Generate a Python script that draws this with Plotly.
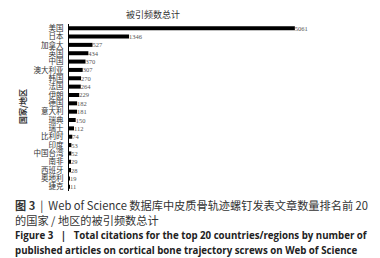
import plotly.graph_objects as go

countries = ["美国", "日本", "加拿大", "英国", "中国", "澳大利亚", "韩国", "法国", "伊朗", "德国",
             "意大利", "瑞典", "瑞士", "比利时", "印度", "中国台湾", "南非", "西班牙", "奥地利", "捷克"]
citations = [5061, 1346, 527, 434, 370, 307, 270, 264, 229, 182,
             181, 150, 112, 74, 53, 52, 29, 28, 19, 11]

CJK = "Noto Sans CJK SC"
TICKFONT = "Liberation Serif, Noto Sans CJK SC"

fig = go.Figure(go.Bar(
    x=citations, y=countries, orientation="h",
    marker=dict(color="#000000", line=dict(width=0)),
    text=[str(v) for v in citations], textposition="outside",
    textfont=dict(size=6.5, color="#555555", family="Liberation Serif"),
    constraintext="none",
    cliponaxis=False, width=0.48,
))

fig.update_layout(
    width=380, height=258,
    margin=dict(l=61, r=20, t=16, b=75),
    paper_bgcolor="white", plot_bgcolor="white",
    showlegend=False,
    xaxis=dict(range=[0, 6700], visible=False, fixedrange=True),
    yaxis=dict(autorange=False, range=[19.5, -0.5], showline=True, linecolor="#000000", linewidth=1,
               ticks="", showgrid=False, zeroline=False,
               tickmode="array", tickvals=countries, ticktext=countries,
               tickfont=dict(size=7.5, color="#333333", family=TICKFONT), ticklabelstandoff=3),
    font=dict(family=CJK),
)

def px(x):
    return (x - 61) / (380 - 61 - 20)
def py(y):
    return (258 - 75 - y) / (258 - 16 - 75)

fig.add_annotation(xref="paper", yref="paper", showarrow=False, xanchor="center", yanchor="middle",
                   x=px(145), y=py(7), text="被引频数总计",
                   font=dict(family=CJK, size=9, color="#333333"))
fig.add_annotation(xref="paper", yref="paper", showarrow=False, xanchor="center", yanchor="middle",
                   x=px(14), y=py(99), text="<b>国家/地区</b>", textangle=-90,
                   font=dict(family=CJK, size=8, color="#333333"))

captions = [
    ("<b>图 3</b>  |  Web of Science 数据库中皮质骨轨迹螺钉发表文章数量排名前 20", 197, "#333333", CJK, 11.2),
    ("的国家 / 地区的被引频数总计", 212, "#333333", CJK, 11.2),
    ("<b>Figure 3   |   Total citations for the top 20 countries/regions by number of</b>", 227, "#222222", "Open Sans", 9.7),
    ("<b>published articles on cortical bone trajectory screws on Web of Science</b>", 242, "#222222", "Open Sans", 9.7),
]
for text, y, color, fam, size in captions:
    fig.add_annotation(xref="paper", yref="paper", showarrow=False, xanchor="left", yanchor="middle",
                       x=px(5), y=py(y), text=text, font=dict(size=size, color=color, family=fam))

fig.write_html("out.html")
